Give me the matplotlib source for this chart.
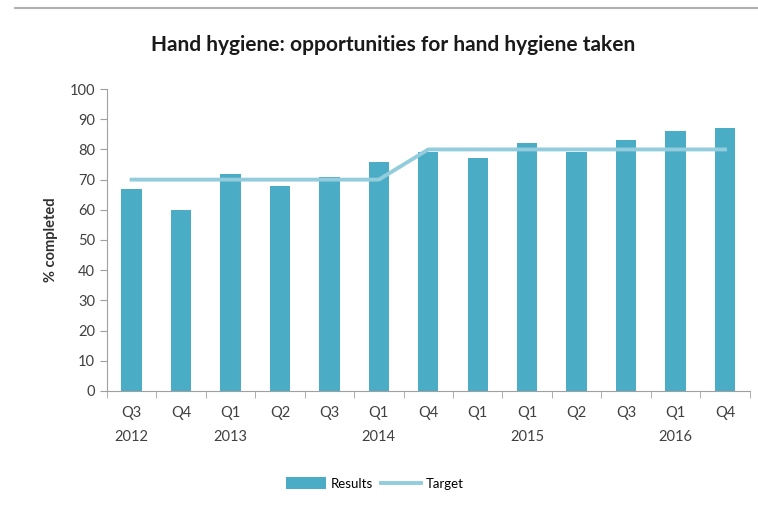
import matplotlib
matplotlib.use("Agg")
import matplotlib.pyplot as plt
import numpy as np
from matplotlib.lines import Line2D

categories = ["Q3\n2012", "Q4", "Q1\n2013", "Q2", "Q3", "Q1\n2014", "Q4",
              "Q1", "Q1\n2015", "Q2", "Q3", "Q1\n2016", "Q4"]
results = [67, 60, 72, 68, 71, 76, 79, 77, 82, 79, 83, 86, 87]
target = [70, 70, 70, 70, 70, 70, 80, 80, 80, 80, 80, 80, 80]

plt.rcParams['font.family'] = ['Lato', 'DejaVu Sans']

fig = plt.figure(figsize=(7.58, 5.09), dpi=100)
ax = fig.add_axes([0.141, 0.232, 0.848, 0.593])

x = np.arange(len(categories))
bars = ax.bar(x, results, width=0.41, color="#4BACC6", label="Results", zorder=2)
line, = ax.plot(x, target, color="#93CDDD", lw=2.8, label="Target", zorder=3)

ax.set_xlim(-0.5, len(categories) - 0.5)
ax.set_ylim(0, 100)
ax.set_yticks(range(0, 101, 10))
ax.set_xticks(x)
ax.set_xticklabels(categories, fontsize=10.5, color="#404040", linespacing=1.9)
ax.set_xticks(np.arange(-0.5, len(categories), 1), minor=True)
ax.tick_params(axis="x", which="major", length=0, pad=11)
ax.tick_params(axis="x", which="minor", length=5, color="#A0A0A0", direction="out")
ax.tick_params(axis="y", length=5, color="#A0A0A0", labelsize=10.5, labelcolor="#404040")
for s in ["top", "right"]:
    ax.spines[s].set_visible(False)
for s in ["left", "bottom"]:
    ax.spines[s].set_color("#A0A0A0")
ax.set_ylabel("% completed", fontsize=10.5, fontweight="bold", color="#303030", labelpad=8)

fig.text(0.518, 0.912, "Hand hygiene: opportunities for hand hygiene taken",
         ha="center", va="center", fontsize=15, fontweight="bold", color="#1a1a1a")

fig.legend([bars, line], ["Results", "Target"], loc="center",
           bbox_to_anchor=(0.495, 0.05), ncol=2, frameon=False,
           fontsize=9.5, handlelength=3, handleheight=1.0, handletextpad=0.4,
           columnspacing=0.6)

fig.add_artist(Line2D([0.02, 1.0], [0.984, 0.984], color="#B0B0B0", lw=1.5,
                      transform=fig.transFigure))

fig.savefig("out.png", dpi=100, facecolor="white")
